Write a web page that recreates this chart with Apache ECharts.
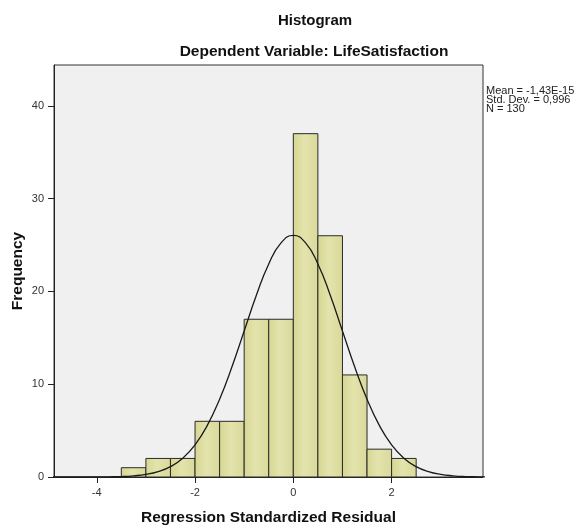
<!DOCTYPE html>
<html>
<head>
<meta charset="utf-8">
<title>Histogram</title>
<script src="https://cdn.jsdelivr.net/npm/echarts@6/dist/echarts.min.js"></script>
<style>
  html, body { margin: 0; padding: 0; background: #fff; }
  #chart { width: 581px; height: 525px; }
</style>
</head>
<body>
<div id="chart"></div>
<script>
// histogram bins (left edge of each 0.5-wide bin) and their counts
const binStarts = [-3.5, -3.0, -2.5, -2.0, -1.5, -1.0, -0.5, 0.0, 0.5, 1.0, 1.5, 2.0]
const counts = [1, 2, 2, 6, 6, 17, 17, 37, 26, 11, 3, 2]
const binWidth = 0.5

// normal curve
const curveX = [-5, -4.75, -4.5, -4.25, -4, -3.75, -3.5, -3.25, -3, -2.75, -2.5, -2.25, -2, -1.75, -1.5, -1.25, -1, -0.75, -0.5, -0.25,
  0, 0.25, 0.5, 0.75, 1, 1.25, 1.5, 1.75, 2, 2.25, 2.5, 2.75, 3, 3.25, 3.5, 3.75, 4]
const curveY = [0, 0, 0, 0, 0.01, 0.02, 0.05, 0.13, 0.28, 0.58, 1.12, 2.03, 3.47, 5.56, 8.38, 11.85, 15.73, 19.61, 22.96, 25.23,
  26.04, 25.23, 22.96, 19.61, 15.73, 11.85, 8.38, 5.56, 3.47, 2.03, 1.12, 0.58, 0.28, 0.13, 0.05, 0.02, 0.01]

const xTicks = [-4, -2, 0, 2]
const yTicks = [0, 10, 20, 30, 40]
const statsLines = ['Mean = -1,43E-15', 'Std. Dev. = 0,996', 'N = 130']

const FONT = 'Liberation Sans, Arial, sans-serif'

const chart = echarts.init(document.getElementById('chart'))

const barData = binStarts.map((x, i) => [x, x + binWidth, counts[i]])
const lineData = curveX.map((x, i) => [x, curveY[i]])

chart.setOption({
  animation: false,
  backgroundColor: '#fff',
  grid: {
    left: 54,
    right: 98,
    top: 65,
    bottom: 48,
    outerBoundsMode: 'none',
    containLabel: false,
    show: true,
    backgroundColor: '#f0f0f0',
    borderColor: '#333',
    borderWidth: 1
  },
  graphic: [
    {
      type: 'text', x: 315, y: 21,
      style: { text: 'Histogram', font: 'bold 15px ' + FONT, fill: '#111', textAlign: 'center', textVerticalAlign: 'middle' }
    },
    {
      type: 'text', x: 314, y: 52,
      style: { text: 'Dependent Variable: LifeSatisfaction', font: 'bold 15.5px ' + FONT, fill: '#111', textAlign: 'center', textVerticalAlign: 'middle' }
    },
    {
      type: 'text', x: 486, y: 87,
      style: { text: statsLines.join('\n'), fontSize: 11, fontFamily: FONT, lineHeight: 8.8, fill: '#222', textAlign: 'left', textVerticalAlign: 'top' }
    }
  ],
  xAxis: {
    type: 'value',
    min: -4.87,
    max: 3.86,
    name: 'Regression Standardized Residual',
    nameLocation: 'middle',
    nameGap: 33,
    nameMoveOverlap: false,
    nameTextStyle: { fontFamily: FONT, fontWeight: 'bold', fontSize: 15.5, color: '#111' },
    axisLine: { show: true, onZero: false, lineStyle: { color: '#222', width: 1 } },
    axisTick: { show: true, length: 6, customValues: xTicks, lineStyle: { color: '#222' } },
    axisLabel: { customValues: xTicks, fontFamily: FONT, fontSize: 11, color: '#333', margin: 10 },
    splitLine: { show: false }
  },
  yAxis: {
    type: 'value',
    min: 0,
    max: 44.4,
    name: 'Frequency',
    nameLocation: 'middle',
    nameGap: 28,
    nameMoveOverlap: false,
    nameRotate: 90,
    nameTextStyle: { fontFamily: FONT, fontWeight: 'bold', fontSize: 15.5, color: '#111' },
    axisLine: { show: true, onZero: false, lineStyle: { color: '#222', width: 1 } },
    axisTick: { show: true, length: 6, customValues: yTicks, lineStyle: { color: '#222' } },
    axisLabel: { customValues: yTicks, fontFamily: FONT, fontSize: 11, color: '#333', margin: 10 },
    splitLine: { show: false }
  },
  series: [
    {
      type: 'custom',
      data: barData,
      encode: { x: [0, 1], y: 2 },
      renderItem: (params, api) => {
        const p0 = api.coord([api.value(0), api.value(2)])
        const p1 = api.coord([api.value(1), 0])
        return {
          type: 'rect',
          shape: { x: p0[0], y: p0[1], width: p1[0] - p0[0], height: p1[1] - p0[1] },
          style: {
            fill: new echarts.graphic.LinearGradient(0, 0, 1, 0, [
              { offset: 0, color: '#d6d791' },
              { offset: 0.45, color: '#e3e3ad' },
              { offset: 1, color: '#d9d99a' }
            ]),
            stroke: '#2a2a2a',
            lineWidth: 1
          }
        }
      },
      z: 2
    },
    {
      type: 'line',
      data: lineData,
      smooth: true,
      showSymbol: false,
      clip: true,
      lineStyle: { color: '#1a1a1a', width: 1.3 },
      z: 3
    }
  ]
})
</script>
</body>
</html>
